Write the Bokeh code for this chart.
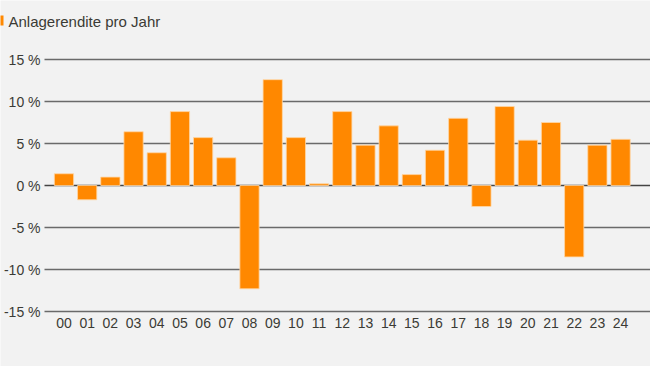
from bokeh.plotting import figure
from bokeh.models import Range1d
from bokeh.core.properties import value
from bokeh.embed import file_html
from bokeh.resources import INLINE

years = ["00", "01", "02", "03", "04", "05", "06", "07", "08", "09", "10", "11", "12",
         "13", "14", "15", "16", "17", "18", "19", "20", "21", "22", "23", "24"]
returns = [1.4, -1.7, 1.0, 6.4, 3.9, 8.8, 5.7, 3.3, -12.3, 12.6, 5.7, 0.2, 8.8,
           4.8, 7.1, 1.3, 4.2, 8.0, -2.5, 9.4, 5.4, 7.5, -8.5, 4.8, 5.5]
y_ticks = [-15, -10, -5, 0, 5, 10, 15]
y_labels = ["-15 %", "-10 %", "-5 %", "0 %", "5 %", "10 %", "15 %"]
title = "Anlagerendite pro Jahr"

BG = "#f2f2f2"
ORANGE = "#ff8800"
TXT = "#3b3b35"
FONT = "Liberation Sans"

W, H = 650, 366
GRID_LEFT_PX = 44          # where the gridlines start
SLOT_PX = (W - GRID_LEFT_PX) / 26.13
ZERO_PX = 185              # screen y of 0 %
PCT_PX = 8.4               # pixels per percentage point

def xd(px):  # screen x -> data x
    return -0.84 + (px - GRID_LEFT_PX) / SLOT_PX

def yd(py):  # screen y -> data y
    return (ZERO_PX - py) / PCT_PX

idx = list(range(len(years)))
grid_colors = ["#444444" if t == 0 else "#6a6a6a" for t in y_ticks]
grid_widths = [1.3 if t == 0 else 1.6 for t in y_ticks]

p = figure(width=W, height=H, output_backend="svg", toolbar_location=None,
           x_range=Range1d(xd(0), xd(W)), y_range=Range1d(yd(H), yd(0)),
           x_axis_type=None, y_axis_type=None,
           min_border_left=0, min_border_right=0, min_border_top=0,
           min_border_bottom=0)
p.background_fill_color = BG
p.border_fill_color = BG
p.outline_line_color = None
p.grid.visible = False

# horizontal gridlines at tick values
p.segment(x0=[xd(GRID_LEFT_PX)] * len(y_ticks), x1=[xd(W)] * len(y_ticks),
          y0=y_ticks, y1=y_ticks, line_color=grid_colors, line_width=grid_widths)

p.vbar(x=idx, top=returns, width=0.83, fill_color=ORANGE,
       line_color="#ffd7a6", line_width=0.8)

# y tick labels
p.text(x=[xd(GRID_LEFT_PX - 4)] * len(y_ticks), y=y_ticks, text=y_labels,
       text_align="right", text_baseline="middle", text_font=value(FONT),
       text_font_size="14px", text_color=TXT)
# x tick labels
p.text(x=idx, y=[yd(322)] * len(idx), text=years, text_align="center",
       text_baseline="middle", text_font=value(FONT), text_font_size="14px",
       text_color=TXT)

# legend marker + title
p.quad(left=[xd(-7)], right=[xd(3)], bottom=[yd(25)], top=[yd(15)],
       fill_color=ORANGE, line_color=None)
p.text(x=[xd(8)], y=[yd(20.5)], text=[title], text_align="left",
       text_baseline="middle", text_font=value(FONT), text_font_size="15px",
       text_color=TXT)

open("out.html", "w").write(file_html(p, INLINE))
